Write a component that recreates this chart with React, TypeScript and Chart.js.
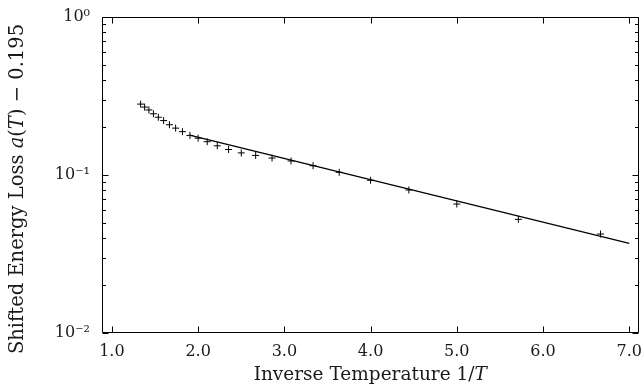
import React, { useEffect, useRef } from "react";
import { Chart, registerables } from "chart.js";

Chart.register(...registerables);

// Inverse temperature 1/T of the measured points
const inverseTemperature = [
  1.333, 1.379, 1.429, 1.481, 1.538, 1.6, 1.667, 1.739, 1.818, 1.905,
  2.0, 2.105, 2.222, 2.353, 2.5, 2.667, 2.857, 3.077, 3.333, 3.636,
  4.0, 4.444, 5.0, 5.714, 6.667,
];
// Shifted energy loss a(T) - 0.195
const shiftedLoss = [
  0.281, 0.269, 0.258, 0.244, 0.232, 0.221, 0.208, 0.198, 0.188, 0.178,
  0.171, 0.1625, 0.153, 0.145, 0.138, 0.133, 0.128, 0.1227, 0.1145, 0.104,
  0.0926, 0.0804, 0.0655, 0.0524, 0.0423,
];
// Fitted straight line (on log scale)
const fitX = [1.9, 7.0];
const fitY = [0.179, 0.0369];

const xTicks = [1, 2, 3, 4, 5, 6, 7];
const xTickLabels = ["1.0", "2.0", "3.0", "4.0", "5.0", "6.0", "7.0"];
const yMajorTicks = [0.01, 0.1, 1];
const yTickLabels = ["10\u207B\u00B2", "10\u207B\u00B9", "10\u2070"];
const yMinorTicks = [
  0.02, 0.03, 0.04, 0.05, 0.06, 0.07, 0.08, 0.09,
  0.2, 0.3, 0.4, 0.5, 0.6, 0.7, 0.8, 0.9,
];

// Axis titles: [text, italic]
const xTitleParts: [string, boolean][] = [
  ["Inverse Temperature 1/", false],
  ["T", true],
];
const yTitleParts: [string, boolean][] = [
  ["Shifted Energy Loss ", false],
  ["a", true],
  ["(", false],
  ["T", true],
  [") \u2212 0.195", false],
];

const FAMILY = "'DejaVu Serif', serif";
const TEXT_COLOR = "#1a1a1a";

function drawRich(
  ctx: CanvasRenderingContext2D,
  parts: [string, boolean][],
  x: number,
  y: number,
  rotation: number,
  size: number
) {
  ctx.save();
  ctx.translate(x, y);
  ctx.rotate(rotation);
  ctx.fillStyle = TEXT_COLOR;
  ctx.textBaseline = "alphabetic";
  ctx.textAlign = "left";
  const fontFor = (it: boolean) => `${it ? "italic " : ""}${size}px ${FAMILY}`;
  let total = 0;
  const widths = parts.map(([t, it]) => {
    ctx.font = fontFor(it);
    const w = ctx.measureText(t).width;
    total += w;
    return w;
  });
  let cx = -total / 2;
  parts.forEach(([t, it], i) => {
    ctx.font = fontFor(it);
    ctx.fillText(t, cx, 0);
    cx += widths[i];
  });
  ctx.restore();
}

const framePlugin = {
  id: "frameTicks",
  afterDatasetsDraw(chart: any) {
    const { ctx, chartArea, scales } = chart;
    const { left, right, top, bottom } = chartArea;
    const xs = scales.x;
    const ys = scales.y;
    const L = Math.round(left) + 0.5;
    const R = Math.round(right) - 0.5;
    const T = Math.round(top) + 0.5;
    const B = Math.round(bottom) - 0.5;
    ctx.save();
    ctx.strokeStyle = "#000";
    ctx.lineWidth = 1;
    ctx.beginPath();
    ctx.rect(L, T, R - L, B - T);
    const major = 6;
    const minor = 3.5;
    xTicks.forEach((v) => {
      const px = Math.round(xs.getPixelForValue(v)) + 0.5;
      ctx.moveTo(px, B);
      ctx.lineTo(px, B - major);
      ctx.moveTo(px, T);
      ctx.lineTo(px, T + major);
    });
    yMajorTicks.forEach((v) => {
      const py = Math.round(ys.getPixelForValue(v)) + 0.5;
      ctx.moveTo(L, py);
      ctx.lineTo(L + major, py);
      ctx.moveTo(R, py);
      ctx.lineTo(R - major, py);
    });
    yMinorTicks.forEach((v) => {
      const py = Math.round(ys.getPixelForValue(v)) + 0.5;
      ctx.moveTo(L, py);
      ctx.lineTo(L + minor, py);
      ctx.moveTo(R, py);
      ctx.lineTo(R - minor, py);
    });
    ctx.stroke();
    ctx.restore();

    // axis titles (mixed upright / italic text)
    const midX = (left + right) / 2;
    drawRich(ctx, xTitleParts, midX, 380, 0, 18.5);
    drawRich(ctx, yTitleParts, 23, 189, -Math.PI / 2, 19.5);
  },
};

export default function App() {
  const canvasRef = useRef<HTMLCanvasElement | null>(null);

  useEffect(() => {
    const canvas = canvasRef.current;
    if (!canvas) return;
    const points = inverseTemperature.map((x, i) => ({ x, y: shiftedLoss[i] }));
    const fit = fitX.map((x, i) => ({ x, y: fitY[i] }));

    const chart = new Chart(canvas, {
      type: "scatter",
      data: {
        datasets: [
          {
            label: "data",
            data: points,
            pointStyle: "cross",
            pointRadius: 3.5,
            pointHoverRadius: 3.5,
            pointBorderWidth: 1,
            borderColor: "#000",
            backgroundColor: "#000",
            showLine: false,
          },
          {
            label: "fit",
            data: fit,
            showLine: true,
            pointRadius: 0,
            borderColor: "#000",
            borderWidth: 1.3,
            fill: false,
          },
        ],
      },
      plugins: [framePlugin],
      options: {
        responsive: false,
        animation: false,
        devicePixelRatio: 1,
        layout: { padding: { left: 0, right: 3, top: 17, bottom: 0 } },
        plugins: {
          legend: { display: false },
          tooltip: { enabled: false },
        },
        scales: {
          x: {
            type: "linear",
            min: 0.885,
            max: 7.107,
            grid: { display: false, drawTicks: false },
            border: { display: false },
            afterBuildTicks: (scale: any) => {
              scale.ticks = xTicks.map((v) => ({ value: v }));
            },
            afterFit: (scale: any) => {
              scale.height = 55;
              scale.paddingLeft = 0;
              scale.paddingRight = 0;
            },
            ticks: {
              color: TEXT_COLOR,
              font: { family: FAMILY, size: 16 },
              padding: 9,
              maxRotation: 0,
              autoSkip: false,
              callback: (value: any) => {
                const i = xTicks.indexOf(Number(value));
                return i >= 0 ? xTickLabels[i] : "";
              },
            },
            title: { display: false },
          },
          y: {
            type: "logarithmic",
            min: 0.01,
            max: 1,
            grid: { display: false, drawTicks: false },
            border: { display: false },
            afterBuildTicks: (scale: any) => {
              scale.ticks = yMajorTicks.map((v) => ({ value: v }));
            },
            afterFit: (scale: any) => {
              scale.width = 102;
              scale.paddingTop = 0;
              scale.paddingBottom = 0;
            },
            ticks: {
              color: TEXT_COLOR,
              font: { family: FAMILY, size: 16 },
              padding: 12,
              autoSkip: false,
              callback: (value: any) => {
                const v = Number(value);
                const i = yMajorTicks.findIndex((t) => Math.abs(t - v) / t < 1e-6);
                return i >= 0 ? yTickLabels[i] : "";
              },
            },
            title: { display: false },
          },
        },
      },
    } as any);

    return () => {
      chart.destroy();
    };
  }, []);

  return (
    <div style={{ position: "fixed", left: 0, top: 0, width: 643, height: 388, background: "#fff" }}>
      <canvas ref={canvasRef} width={643} height={388} style={{ display: "block" }} />
    </div>
  );
}
